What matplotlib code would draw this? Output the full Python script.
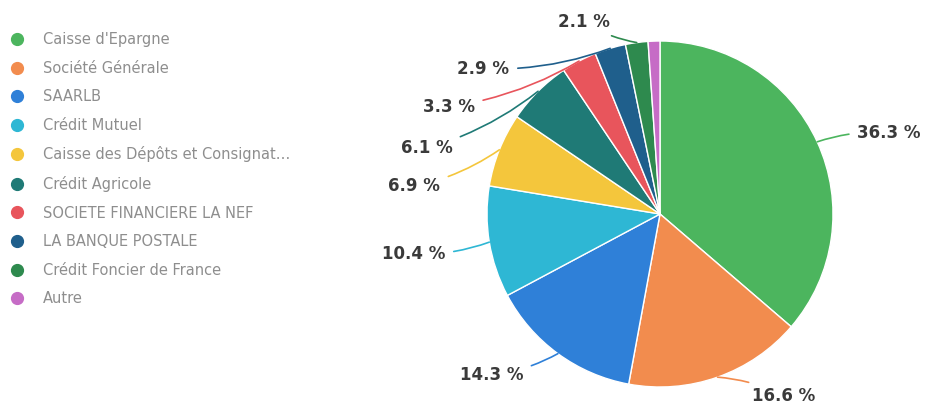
import numpy as np
import matplotlib
matplotlib.use('Agg')
import matplotlib.pyplot as plt
from matplotlib.lines import Line2D

# data
banks = ['Caisse d\'Epargne', 'Société Générale', 'SAARLB', 'Crédit Mutuel',
         'Caisse des Dépôts et Consignat…', 'Crédit Agricole',
         'SOCIETE FINANCIERE LA NEF', 'LA BANQUE POSTALE',
         'Crédit Foncier de France', 'Autre']
shares = [36.3, 16.6, 14.3, 10.4, 6.9, 6.1, 3.3, 2.9, 2.1, 1.1]
labels = ['36.3 %', '16.6 %', '14.3 %', '10.4 %', '6.9 %', '6.1 %',
          '3.3 %', '2.9 %', '2.1 %', '']
colors = ['#4cb55e', '#f28c4e', '#2f80d8', '#2eb7d4', '#f4c63c', '#1f7a76',
          '#e8555c', '#1f5f8c', '#2e8a4e', '#c66cc6']

# label placement (pie radius units) and alignment
label_pos = [(1.14, 0.47), (0.53, -1.05), (-0.79, -0.93), (-1.24, -0.23),
             (-1.27, 0.16), (-1.20, 0.38), (-1.07, 0.62), (-0.87, 0.84),
             (-0.29, 1.11), None]
label_ha = ['left', 'left', 'right', 'right', 'right', 'right', 'right',
            'right', 'right', 'right']

fig = plt.figure(figsize=(9.27, 4.05), dpi=100)
ax = fig.add_axes([0, 0, 1, 1])

wedges, _ = ax.pie(shares, colors=colors, startangle=90, counterclock=False,
                   radius=1.0, center=(0, 0),
                   wedgeprops=dict(edgecolor='white', linewidth=1))

for w, lab, pos, ha, c in zip(wedges, labels, label_pos, label_ha, colors):
    if pos is None:
        continue
    ang = np.deg2rad((w.theta1 + w.theta2) / 2.0)
    xy = (np.cos(ang), np.sin(ang))
    ax.annotate(lab, xy=xy, xytext=pos, ha=ha, va='center',
                fontsize=12, fontweight='bold', color='#3a3a3a',
                arrowprops=dict(arrowstyle='-', color=c, lw=1.2,
                                shrinkA=4, shrinkB=0,
                                connectionstyle='arc3,rad=0.1'))

ax.set_xlim(-660 / 173, (927 - 660) / 173)
ax.set_ylim((214 - 405) / 173, 214 / 173)
ax.set_aspect('equal')
ax.axis('off')

handles = [Line2D([], [], marker='o', linestyle='', markersize=8.5,
                  markerfacecolor=c, markeredgecolor=c) for c in colors]
leg = fig.legend(handles, banks, loc='upper left',
                 bbox_to_anchor=(0.004, 0.935), frameon=False,
                 fontsize=10.5, labelspacing=0.93, handletextpad=1.3,
                 handlelength=1.0, borderaxespad=0)
for t in leg.get_texts():
    t.set_color('#8e8e8e')

plt.savefig('out.png', dpi=100)
plt.close()
